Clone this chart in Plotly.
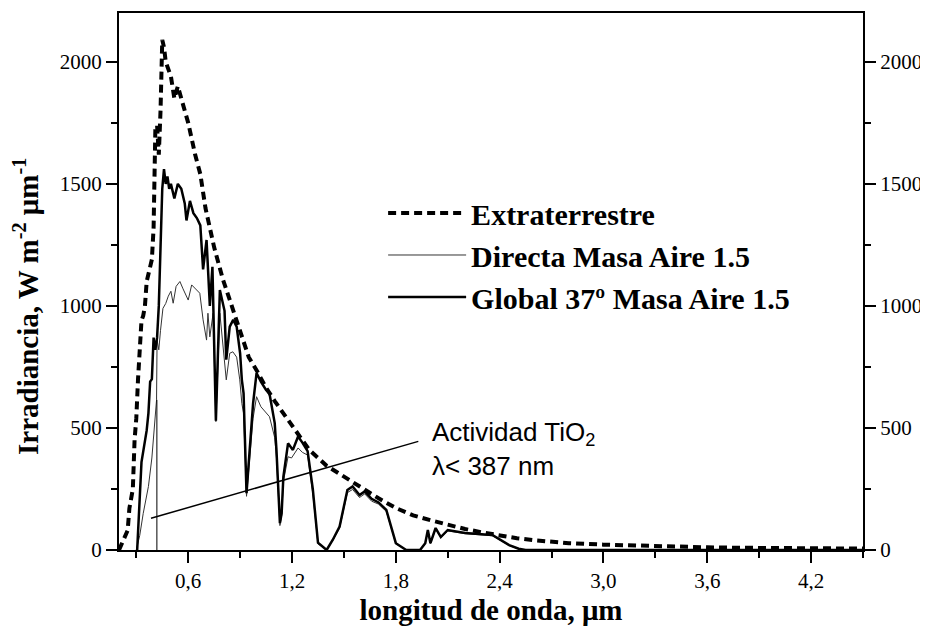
import plotly.graph_objects as go

# ---------------- data ----------------
ext_x = [0.20, 0.22, 0.25, 0.26, 0.28, 0.29, 0.30, 0.31, 0.32, 0.33, 0.34, 0.35, 0.36, 0.37,
         0.38, 0.39, 0.40, 0.41, 0.42, 0.43, 0.44, 0.45, 0.46, 0.47, 0.48, 0.49, 0.50, 0.52,
         0.54, 0.56, 0.58, 0.60, 0.64, 0.67, 0.70, 0.75, 0.80, 0.85, 0.90, 0.95, 1.00, 1.05,
         1.10, 1.15, 1.20, 1.25, 1.30, 1.40, 1.50, 1.60, 1.70, 1.80, 1.90, 2.00, 2.10, 2.20,
         2.30, 2.40, 2.50, 2.60, 2.70, 2.80, 3.00, 3.20, 3.40, 3.60, 3.80, 4.00, 4.20, 4.50]
ext_y = [0, 30, 80, 170, 250, 450, 540, 700, 830, 940, 960, 1000, 1100, 1140,
         1160, 1190, 1320, 1720, 1740, 1620, 1800, 2090, 2060, 2000, 1980, 1950, 1940, 1850,
         1900, 1850, 1800, 1750, 1620, 1540, 1400, 1240, 1110, 1000, 890, 790, 730, 665,
         610, 560, 505, 455, 410, 345, 300, 255, 212, 172, 142, 122, 102, 86,
         72, 58, 48, 40, 33, 28, 22, 17, 14, 11, 9, 8, 7, 6]

glob_x = [0.300, 0.305, 0.33, 0.36, 0.37, 0.38, 0.39, 0.40, 0.41, 0.42, 0.43, 0.44, 0.45, 0.46,
          0.47, 0.48, 0.49, 0.50, 0.52, 0.54, 0.56, 0.58, 0.59, 0.61, 0.63, 0.65, 0.67, 0.686,
          0.706, 0.725, 0.74, 0.76, 0.783, 0.81, 0.82, 0.84, 0.86, 0.88, 0.90, 0.91, 0.92,
          0.937, 0.975, 0.995, 1.02, 1.05, 1.07, 1.10, 1.11, 1.13, 1.14, 1.15, 1.177, 1.205,
          1.235, 1.26, 1.29, 1.32, 1.35, 1.40, 1.435, 1.475, 1.52, 1.55, 1.59, 1.62, 1.66,
          1.70, 1.745, 1.80, 1.86, 1.94, 1.97, 1.985, 2.00, 2.03, 2.06, 2.10, 2.20, 2.28,
          2.36, 2.455, 2.51, 2.55, 3.00, 3.20, 3.50, 4.00, 4.50]
glob_y = [0, 0, 360, 490, 560, 690, 700, 870, 820, 870, 1000, 1300, 1480, 1560,
          1500, 1530, 1480, 1500, 1440, 1500, 1480, 1420, 1350, 1430, 1380, 1360, 1330, 1150,
          1270, 1000, 1160, 530, 1065, 980, 780, 915, 943, 915, 806, 697, 642,
          233, 601, 725, 690, 656, 640, 520, 410, 110, 150, 300, 437, 410,
          465, 440, 405, 250, 30, 0, 41, 96, 246, 260, 225, 240, 210,
          195, 164, 28, 0, 0, 28, 82, 28, 90, 53, 82, 70, 66,
          61, 20, 5, 0, 0, 3, 2, 1, 0]

dir_x = [0.30, 0.32, 0.34, 0.37, 0.39, 0.417, 0.42, 0.43, 0.44, 0.454, 0.47, 0.485, 0.50,
         0.513, 0.53, 0.552, 0.57, 0.60, 0.62, 0.64, 0.667, 0.686, 0.706, 0.714, 0.725,
         0.744, 0.76, 0.783, 0.802, 0.82, 0.84, 0.858, 0.88, 0.898, 0.91, 0.92, 0.937,
         0.975, 0.995, 1.02, 1.07, 1.10, 1.11, 1.13, 1.14, 1.15, 1.177, 1.197, 1.235,
         1.26, 1.29, 1.32, 1.35, 1.40, 1.435, 1.475, 1.52, 1.55, 1.59, 1.62, 1.66, 1.70,
         1.745, 1.80, 1.86, 1.94, 1.97, 1.985, 2.00, 2.03, 2.06, 2.10, 2.20, 2.28, 2.36,
         2.455, 2.51, 2.55, 4.50]
dir_y = [0, 60, 150, 260, 377, 615, 860, 820, 900, 990, 1010, 1040, 1060,
         1011, 1080, 1100, 1070, 1024, 1086, 1070, 1052, 943, 860, 970, 873,
         970, 526, 970, 833, 697, 806, 812, 790, 697, 600, 560, 220,
         540, 628, 587, 546, 460, 380, 100, 140, 280, 382, 377, 418,
         400, 389, 230, 25, 0, 38, 90, 235, 248, 215, 230, 200, 188,
         158, 26, 0, 0, 26, 78, 26, 86, 50, 78, 67, 63, 58,
         18, 4, 0, 0]

# thin vertical line at the TiO2 absorption edge region
edge_x = [0.419, 0.419]
edge_y = [0, 615]

series_names = ["Extraterrestre", "Directa Masa Aire 1.5", "Global 37º Masa Aire 1.5"]
x_ticks_dtick = 0.6
y_ticks_dtick = 500
x_range = [0.2, 4.5]
y_range = [0, 2200]

# annotation: leader line and text
note_text = "Actividad TiO<sub>2</sub><br>λ< 387 nm"
note_pos = (2.0, 414)
leader_start = (0.385, 130)
leader_end = (1.93, 445)

SERIF = "Liberation Serif"
SANS = "Liberation Sans"

fig = go.Figure()
fig.add_trace(go.Scatter(x=ext_x, y=ext_y, mode="lines", name=series_names[0],
                         legendgroup="a",
                         line=dict(color="black", width=4, dash="8px,5px")))
fig.add_trace(go.Scatter(x=dir_x, y=dir_y, mode="lines", name=series_names[1],
                         legendgroup="b",
                         line=dict(color="#333333", width=1)))
fig.add_trace(go.Scatter(x=glob_x, y=glob_y, mode="lines", name=series_names[2],
                         legendgroup="c",
                         line=dict(color="black", width=2.5)))
fig.add_trace(go.Scatter(x=edge_x, y=edge_y, mode="lines", showlegend=False,
                         line=dict(color="black", width=1), hoverinfo="skip"))
# invisible trace to activate the right-hand axis
fig.add_trace(go.Scatter(x=ext_x, y=ext_y, mode="lines", yaxis="y2", showlegend=False,
                         opacity=0, hoverinfo="skip", line=dict(width=0)))

axis_common = dict(showgrid=False, zeroline=False, showline=True, linewidth=2,
                   linecolor="black", ticks="outside", ticklen=11, tickwidth=2,
                   automargin=False,
                   tickcolor="black", tickfont=dict(family=SERIF, size=21, color="black"))

fig.update_layout(
    width=920, height=618,
    margin=dict(l=111, r=65, t=5, b=76),
    plot_bgcolor="white", paper_bgcolor="white",
    separators=", ",
    showlegend=True,
    legend=dict(x=0.355, y=0.676, xanchor="left", yanchor="top",
                font=dict(family=SERIF, size=30, color="black", weight="bold"),
                bgcolor="rgba(0,0,0,0)", itemwidth=78, tracegroupgap=0),
    xaxis=dict(range=x_range, tick0=0, dtick=x_ticks_dtick, tickformat=".1f",
               mirror=True,
               minor=dict(tick0=0, dtick=0.3, ticks="outside", ticklen=6, tickwidth=2,
                          tickcolor="black"),
               title=dict(text="<b>longitud de onda, μm</b>",
                          font=dict(family=SERIF, size=29, color="black"), standoff=10),
               **axis_common),
    yaxis=dict(range=y_range, tick0=0, dtick=y_ticks_dtick,
               minor=dict(tick0=0, dtick=250, ticks="outside", ticklen=6, tickwidth=2,
                          tickcolor="black"),
               **axis_common),
    yaxis2=dict(range=y_range, tick0=0, dtick=y_ticks_dtick, overlaying="y", side="right",
                minor=dict(tick0=0, dtick=250, ticks="outside", ticklen=6, tickwidth=2,
                           tickcolor="black"),
                **axis_common),
)

fig.add_annotation(text="<b>Irradiancia, W m<sup>-2</sup> μm<sup>-1</sup></b>",
                   xref="paper", yref="paper", x=-0.125, y=0.4525,
                   xanchor="center", yanchor="middle", textangle=-90, showarrow=False,
                   font=dict(family=SERIF, size=29, color="black"))

fig.add_annotation(text=note_text, x=note_pos[0], y=note_pos[1], xref="x", yref="y",
                   xanchor="left", yanchor="middle", align="left", showarrow=False,
                   font=dict(family=SANS, size=26, color="black"))

fig.add_shape(type="line", xref="x", yref="y",
              x0=leader_start[0], y0=leader_start[1], x1=leader_end[0], y1=leader_end[1],
              line=dict(color="black", width=1.5))

fig.write_html("out.html")
